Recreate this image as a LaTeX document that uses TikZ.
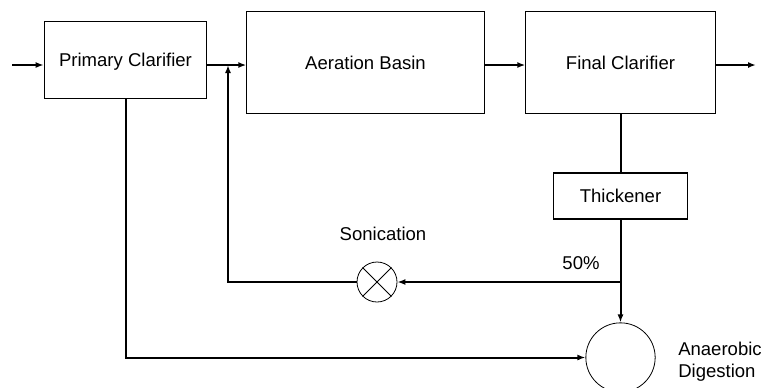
\documentclass[tikz,border=0pt]{standalone}
\usepackage{fontspec}
\setmainfont{Liberation Sans}
\usepackage{tikz}
\usetikzlibrary{arrows.meta, positioning}

\begin{document}
\begin{tikzpicture}[x=0.75pt, y=-0.75pt,
  every node/.style={font=\fontsize{13.9}{16.5}\selectfont},
  unit/.style={draw, line width=0.8pt, inner sep=0pt, text depth=0pt},
  pipe/.style={line width=1.5pt},
  flow/.style={pipe, -{Latex[length=6pt,width=4.5pt]}}]
  \useasboundingbox (0,0) rectangle (770,387);
  % ---------- MAIN LINE ----------
  \node[unit, minimum width=122pt, minimum height=58pt] (pc) at (125.5,60) {Primary Clarifier};
  \node[unit, minimum width=178pt, minimum height=76pt] (ab) at (365.5,62.5) {Aeration Basin};
  \node[unit, minimum width=142pt, minimum height=76pt] (fc) at (620.5,62.5) {Final Clarifier};
  \coordinate (feed) at (12,65);
  \coordinate (effl) at (756,65);
  \coordinate (junc) at (228,65);
  \draw[flow] (feed) -- (feed -| pc.west);
  \draw[flow] (junc -| pc.east) -- (junc -| ab.west);
  \draw[flow] (junc -| ab.east) -- (junc -| fc.west);
  \draw[flow] (effl -| fc.east) -- (effl);
  % ---------- SLUDGE LINE ----------
  \node[unit, minimum width=101pt, minimum height=34.5pt] (thk) at (620.5,196) {Thickener};
  \node[draw, circle, line width=0.6pt, minimum size=30pt, inner sep=0pt] (son) at (377,282) {};
  \draw[line width=0.6pt] (son.north east) -- (son.south west) (son.north west) -- (son.south east);
  \node[draw, circle, line width=0.6pt, minimum size=52pt, inner sep=0pt] (dig) at (620.5,357.5) {};
  \coordinate (split) at (620.5,282);
  \draw[pipe] (fc.south) -- (thk.north);
  \draw[pipe] (thk.south) -- (split);
  \draw[flow] (split) -- (son.east);
  \draw[flow] (split) -- (dig.north);
  \draw[flow] (son.west) -| (junc);
  \draw[flow] (pc.south) |- (dig.west);
  % ---------- LABELS ----------
  \node (sonlbl) at (383,234) {Sonication};
  \node (pct) at (581,263) {50\%};
  \node[anchor=west, align=left, inner sep=0pt] (diglbl) at (678,362) {Anaerobic\\Digestion};
\end{tikzpicture}
\end{document}
